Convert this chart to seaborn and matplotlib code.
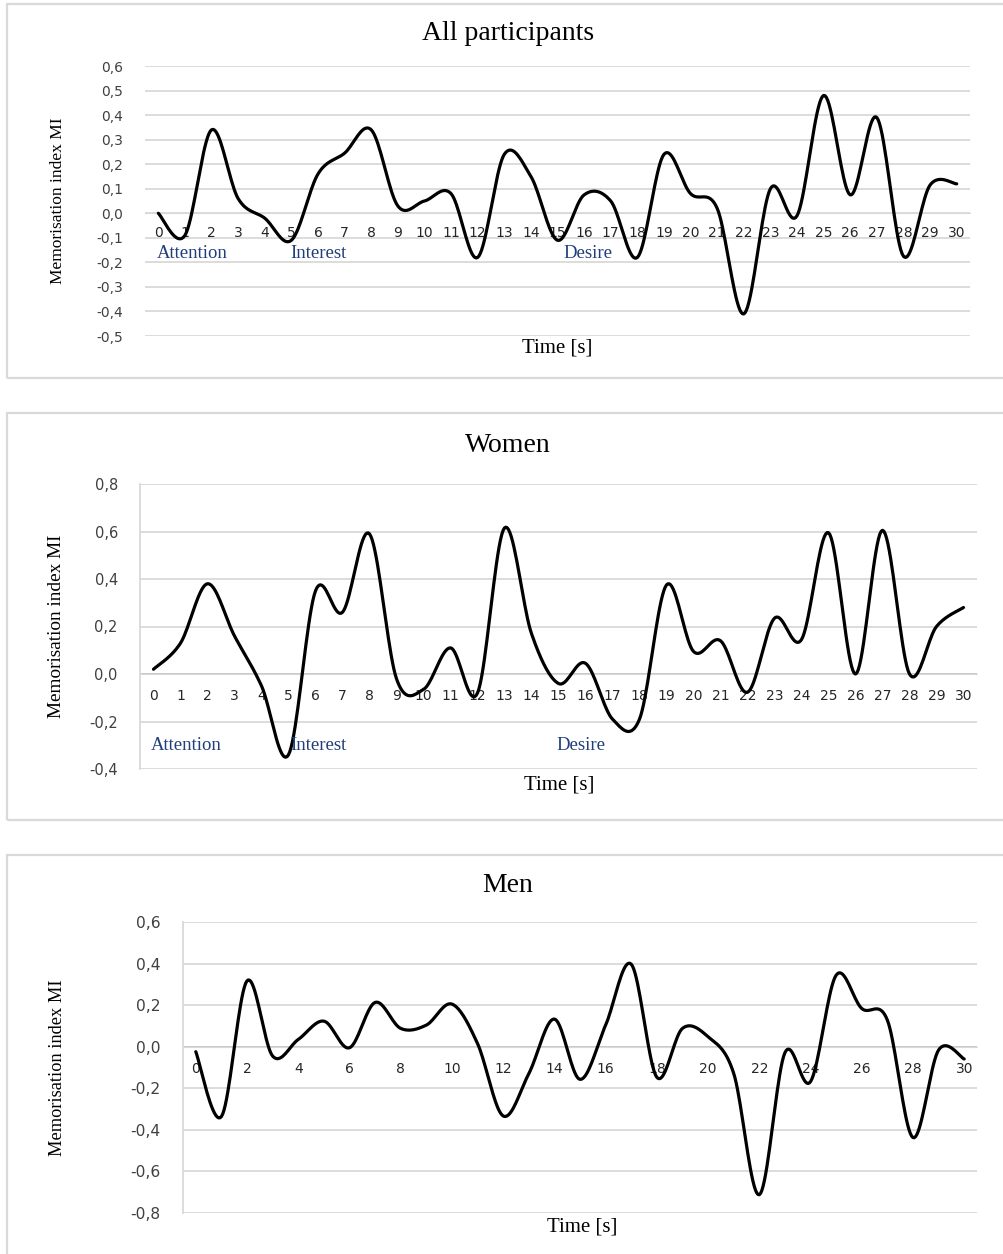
import numpy as np
import seaborn as sns
import matplotlib.pyplot as plt
from matplotlib.patches import Rectangle

# time categories (seconds)
time_s = list(range(31))

# memorisation index
mi_all = [0.00, -0.09, 0.34, 0.06, -0.02, -0.11, 0.16, 0.245, 0.34, 0.03,
          0.05, 0.08, -0.18, 0.24, 0.15, -0.11, 0.075, 0.05, -0.18, 0.24,
          0.08, 0.02, -0.41, 0.10, -0.01, 0.48, 0.075, 0.39, -0.175, 0.115,
          0.12]
mi_women = [0.02, 0.13, 0.38, 0.16, -0.05, -0.34, 0.35, 0.26, 0.59, -0.02,
            -0.065, 0.11, -0.08, 0.615, 0.17, -0.04, 0.045, -0.19, -0.19, 0.375,
            0.095, 0.14, -0.077, 0.235, 0.145, 0.595, 0.0, 0.605, 0.0, 0.20,
            0.28]
mi_men = [-0.024, -0.336, 0.317, -0.045, 0.035, 0.123, -0.005, 0.213, 0.088, 0.104,
          0.205, 0.015, -0.333, -0.13, 0.133, -0.157, 0.104, 0.397, -0.147, 0.088,
          0.048, -0.128, -0.712, -0.029, -0.168, 0.344, 0.184, 0.128, -0.437, -0.016,
          -0.059]

stage_labels = ['Attention', 'Interest', 'Desire']

W, H = 1004, 1254
GRID = '#d9d9d9'
BLUE = '#203e7a'


def smooth(x, y, n=20):
    # excel-style smoothed line (catmull-rom between the points)
    x = np.asarray(x, float)
    y = np.asarray(y, float)
    px = np.concatenate([[x[0]], x, [x[-1]]])
    py = np.concatenate([[y[0]], y, [y[-1]]])
    xs, ys = [], []
    t = np.linspace(0, 1, n, endpoint=False)
    for i in range(1, len(px) - 2):
        for arr, out in ((px, xs), (py, ys)):
            p0, p1, p2, p3 = arr[i - 1], arr[i], arr[i + 1], arr[i + 2]
            out.append(0.5 * (2 * p1 + (-p0 + p2) * t + (2 * p0 - 5 * p1 + 4 * p2 - p3) * t ** 2
                              + (-p0 + 3 * p1 - 3 * p2 + p3) * t ** 3))
    xs.append([x[-1]])
    ys.append([y[-1]])
    return np.concatenate(xs), np.concatenate(ys)


def fmt(v):
    return f'{v:.1f}'.replace('.', ',').replace('-0,0', '0,0')


sns.set_style('white')
plt.rcParams['font.family'] = ['DejaVu Sans']

fig = plt.figure(figsize=(W / 100, H / 100), dpi=100)


def px_axes(left, top, right, bottom):
    return fig.add_axes([left / W, 1 - bottom / H, (right - left) / W, (bottom - top) / H])


def frame(top, bottom):
    fig.patches.append(Rectangle((7 / W, 1 - bottom / H), 1.2, (bottom - top) / H,
                                 transform=fig.transFigure, fill=False,
                                 edgecolor=GRID, lw=1.6, zorder=0))


panels = [
    dict(y=mi_all, title='All participants', box=(145, 66, 970, 336), frame=(4, 378),
         ylim=(-0.5, 0.6), step=0.1, xstep=1, tick_fs=10, xcol='#8c8c8c', xpad=9,
         ylab_fs=12.5, ylab_x=58, title_y=33, time_y=348, time_x=557,
         stage_y=254, stage_x=[157, 290, 563], left_spine=False),
    dict(y=mi_women, title='Women', box=(140, 484, 977, 769), frame=(413, 820),
         ylim=(-0.4, 0.8), step=0.2, xstep=1, tick_fs=10.5, xcol='#8c8c8c', xpad=11,
         ylab_fs=13.9, ylab_x=57, title_y=445, time_y=785, time_x=559,
         stage_y=746, stage_x=[151, 290, 556], left_spine=True),
    dict(y=mi_men, title='Men', box=(183, 922, 977, 1213), frame=(855, 1262),
         ylim=(-0.8, 0.6), step=0.2, xstep=2, tick_fs=11.2, xcol='#595959', xpad=11,
         ylab_fs=13.2, ylab_x=58, title_y=885, time_y=1227, time_x=582,
         stage_y=None, stage_x=[], left_spine=True),
]

for p in panels:
    frame(*p['frame'])
    ax = px_axes(*p['box'])
    xs, ys = smooth(time_s, p['y'])
    sns.lineplot(x=xs, y=ys, ax=ax, color='black', lw=2.3, sort=False, zorder=3)

    lo, hi = p['ylim']
    yt = np.round(np.arange(lo, hi + 1e-9, p['step']), 2)
    ax.set_ylim(lo, hi)
    ax.set_xlim(-0.5, 30.5)
    ax.set_yticks(yt)
    ax.set_yticklabels([fmt(v) for v in yt], fontsize=p['tick_fs'], color='#404040')
    for v in yt:
        ax.axhline(v, color=GRID if v != 0 or not p['left_spine'] else '#c4c4c4',
                   lw=1.3, zorder=1)

    xt = time_s[::p['xstep']]
    ax.set_xticks(xt)
    ax.set_xticklabels([str(t) for t in xt], fontsize=p['tick_fs'] + (0.5 if p['xstep'] == 1 else 0),
                       color=p['xcol'])
    ax.tick_params(axis='both', length=0)
    ax.tick_params(axis='x', pad=p['xpad'])
    ax.tick_params(axis='y', pad=16)

    for s in ['top', 'right']:
        ax.spines[s].set_visible(False)
    ax.spines['bottom'].set_position(('data', 0))
    ax.spines['bottom'].set_color(GRID)
    ax.spines['bottom'].set_zorder(1)
    ax.spines['left'].set_visible(p['left_spine'])
    ax.spines['left'].set_color(GRID)
    ax.spines['left'].set_linewidth(1.3)
    ax.set_xlabel('')
    ax.set_ylabel('')
    ax.patch.set_alpha(0)

    fig.text(p['ylab_x'] / W, 1 - (p['box'][1] + p['box'][3]) / 2 / H, 'Memorisation index MI',
             rotation=90, ha='center', va='center', family='Liberation Serif',
             fontsize=p['ylab_fs'], color='black')
    fig.text(508 / W, 1 - p['title_y'] / H, p['title'], ha='center', va='center',
             family='Liberation Serif', fontsize=20, color='black')
    fig.text(p['time_x'] / W, 1 - p['time_y'] / H, 'Time [s]', ha='center', va='center',
             family='Liberation Serif', fontsize=15, color='black')
    for lab, sx in zip(stage_labels, p['stage_x']):
        fig.text(sx / W, 1 - p['stage_y'] / H, lab, ha='left', va='center',
                 family='Liberation Serif', fontsize=13.5, color=BLUE)

fig.savefig('out.png', dpi=100)
